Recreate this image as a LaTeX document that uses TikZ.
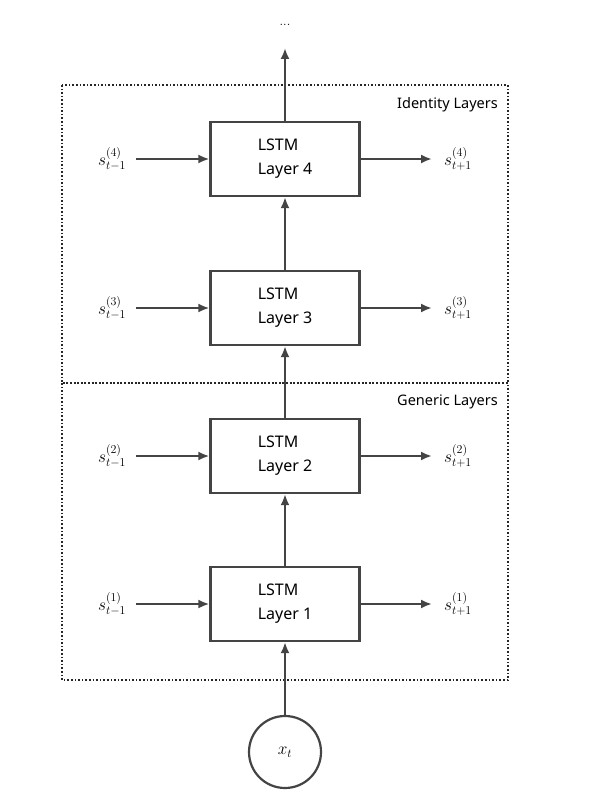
\documentclass[tikz,border=0pt]{standalone}
\usepackage{fontspec}
\setsansfont{Noto Sans}
\usetikzlibrary{arrows.meta}
\definecolor{lc}{HTML}{444444}
\tikzset{
  lstm/.style={draw=lc, line width=2.2pt, minimum width=149pt, minimum height=74pt, inner sep=0pt,
    align=left, font=\sffamily\fontsize{16}{24}\selectfont},
  conn/.style={draw=lc, line width=2.4pt, -{Latex[length=11pt,width=9pt]}},
  region/.style={draw=black!85, line width=1.6pt, dotted},
  lab/.style={font=\fontsize{18}{20}\selectfont, inner sep=0pt},
  grp/.style={font=\sffamily\fontsize{14.5}{16}\selectfont, anchor=east, inner sep=0pt},
  inp/.style={draw=lc, line width=2.2pt, circle, minimum size=72pt, inner sep=0pt, font=\fontsize{18}{20}\selectfont}
}
\begin{document}
\begin{tikzpicture}[x=1pt,y=-1pt]
\useasboundingbox (0,0) rectangle (593,802);
% regions
\draw[region] (62,85) rectangle (508,383);
\draw[region] (62,383) rectangle (508,680);
\node[grp] (idl) at (498,105) {Identity Layers};
\node[grp] (gnl) at (498,402) {Generic Layers};
% boxes
\node[lstm] (l4) at (285,159) {LSTM\\Layer 4};
\node[lstm] (l3) at (285,308) {LSTM\\Layer 3};
\node[lstm] (l2) at (285,456) {LSTM\\Layer 2};
\node[lstm] (l1) at (285,604) {LSTM\\Layer 1};
\node[inp] (x) at (285,752) {$x_t$};
\node[font=\fontsize{13}{15}\selectfont, inner sep=0pt] (dots) at (285,25) {...};
\coordinate (top) at (285,48);
% left/right labels
\foreach \i/\y in {4/159,3/308,2/456,1/604}{
  \node[lab] (sl\i) at (112,\y) {$s_{t-1}^{(\i)}$};
  \node[lab] (sr\i) at (458,\y) {$s_{t+1}^{(\i)}$};
  \coordinate (al\i) at (136,\y);
  \coordinate (ar\i) at (432,\y);
}
\foreach \i in {1,2,3,4}{
  \draw[conn] (al\i) -- (l\i.west);
  \draw[conn] (l\i.east) -- (ar\i);
}
\draw[conn] (x.north) -- (l1.south);
\draw[conn] (l1.north) -- (l2.south);
\draw[conn] (l2.north) -- (l3.south);
\draw[conn] (l3.north) -- (l4.south);
\draw[conn] (l4.north) -- (top);
\end{tikzpicture}
\end{document}
